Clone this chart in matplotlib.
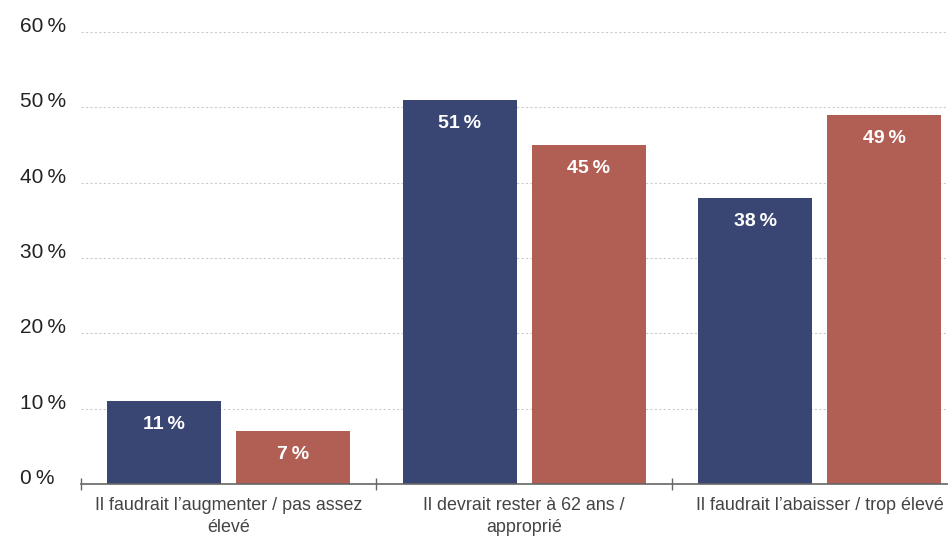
import matplotlib.pyplot as plt
import numpy as np

plt.rcParams['font.family'] = ['Liberation Sans', 'DejaVu Sans']

# données
categories = ["Il faudrait l\u2019augmenter / pas assez\nélevé",
              "Il devrait rester à 62 ans /\napproprié",
              "Il faudrait l\u2019abaisser / trop élevé"]
serie_bleue = [11, 51, 38]
serie_rouge = [7, 45, 49]
yticks = [0, 10, 20, 30, 40, 50, 60]
ytick_labels = [f"{v}\u2009%" for v in yticks]

bleu = "#394573"
rouge = "#b15e54"

fig = plt.figure(figsize=(9.48, 5.38), dpi=100)
ax = fig.add_axes([81 / 948, 54 / 538, 886.5 / 948, 452 / 538])

x = np.arange(len(categories))
w = 114 / 295.5
gap = 15 / 295.5
b1 = ax.bar(x - (w + gap) / 2, serie_bleue, w, color=bleu, zorder=3)
b2 = ax.bar(x + (w + gap) / 2, serie_rouge, w, color=rouge, zorder=3)

for bars, vals in ((b1, serie_bleue), (b2, serie_rouge)):
    for r, v in zip(bars, vals):
        ax.annotate(f"{v}\u2009%", (r.get_x() + r.get_width() / 2, v),
                    xytext=(0, -17), textcoords="offset points",
                    ha="center", va="center", color="white",
                    fontsize=14, fontweight="bold", zorder=4)

ax.set_xlim(-0.5, len(categories) - 0.5)
ax.set_ylim(0, 60)

ax.set_yticks(yticks)
ax.set_yticklabels(ytick_labels, ha="left", va="baseline", fontsize=15, color="#222222")
ax.tick_params(axis="y", length=0, pad=44)

ax.set_xticks(x)
ax.set_xticklabels(categories, fontsize=12.9, color="#444444", linespacing=1.45)
ax.tick_params(axis="x", length=0, pad=9)
ax.set_xticks(np.arange(len(categories) + 1) - 0.5, minor=True)
ax.tick_params(axis="x", which="minor", direction="inout", length=9,
               color="#666666", width=1)

ax.grid(axis="y", linestyle=(0, (2, 2)), color="#cccccc", linewidth=0.8, zorder=0)
for s in ("top", "right", "left"):
    ax.spines[s].set_visible(False)
ax.spines["bottom"].set_color("#666666")
ax.spines["bottom"].set_linewidth(1.2)
ax.spines["bottom"].set_zorder(5)

fig.savefig("out.png", dpi=100)
